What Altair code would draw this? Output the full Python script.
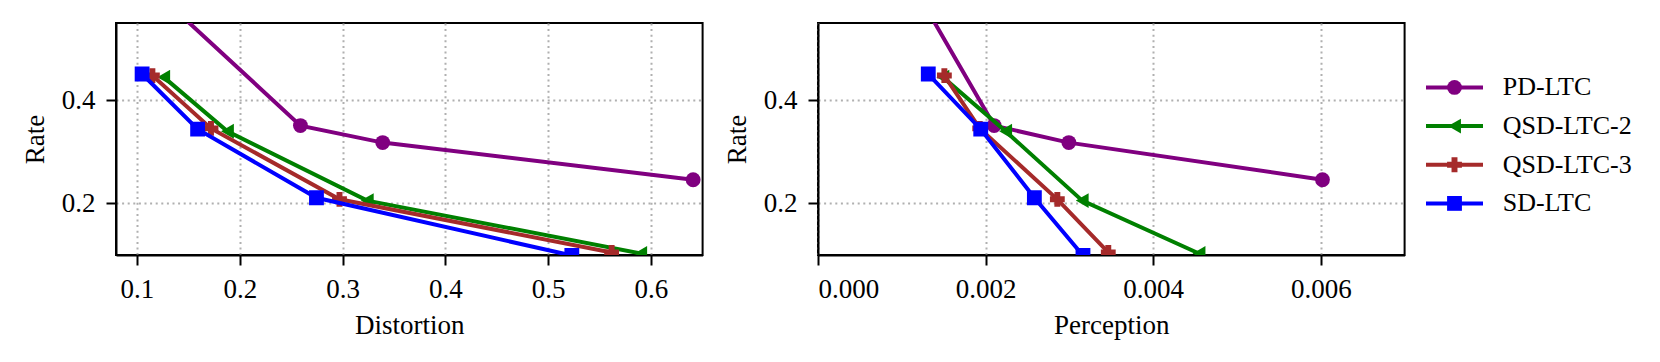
import altair as alt
import pandas as pd

series = ["PD-LTC", "QSD-LTC-2", "QSD-LTC-3", "SD-LTC"]
colors = ["#800080", "#008000", "#A52A2A", "#0000FF"]
shapes = ["circle", "triangle-left", "cross", "square"]

pd_rate = [0.70, 0.351, 0.318, 0.246]
pd_dist = [0.0695, 0.259, 0.339, 0.641]
pd_perc = [0.00086, 0.002102, 0.002993, 0.00602]

q2_rate = [0.445, 0.340, 0.2055, 0.103]
q2_dist = [0.126, 0.188, 0.324, 0.590]
q2_perc = [0.00149, 0.002239, 0.003153, 0.004547]

q3_rate = [0.448, 0.3456, 0.208, 0.105]
q3_dist = [0.115, 0.172, 0.297, 0.5617]
q3_perc = [0.001508, 0.00193, 0.002856, 0.003464]

sd_rate = [0.451, 0.344, 0.211, 0.099]
sd_dist = [0.105, 0.159, 0.2746, 0.523]
sd_perc = [0.001316, 0.001942, 0.002582, 0.003162]

dist_ticks = [0.1, 0.2, 0.3, 0.4, 0.5, 0.6]
perc_ticks = [0.0, 0.002, 0.004, 0.006]
rate_ticks = [0.2, 0.4]

rows = []
for name, r, d, p in [
    ("PD-LTC", pd_rate, pd_dist, pd_perc),
    ("QSD-LTC-2", q2_rate, q2_dist, q2_perc),
    ("QSD-LTC-3", q3_rate, q3_dist, q3_perc),
    ("SD-LTC", sd_rate, sd_dist, sd_perc),
]:
    for i in range(len(r)):
        rows.append({"series": name, "idx": i, "rate": r[i], "dist": d[i], "perc": p[i]})
df = pd.DataFrame(rows)

FONT = "Liberation Serif"
color_scale = alt.Scale(domain=series, range=colors)
shape_scale = alt.Scale(domain=series, range=shapes)
W, H = 586.6, 232


def panel(xfield, xtitle, xdomain, xvalues, xformat):
    layers = []
    xenc = alt.X(f"{xfield}:Q",
                 scale=alt.Scale(domain=xdomain, nice=False, zero=False),
                 axis=alt.Axis(values=xvalues, format=xformat, title=xtitle))
    yenc = alt.Y("rate:Q",
                 scale=alt.Scale(domain=[0.1, 0.55], nice=False, zero=False),
                 axis=alt.Axis(values=rate_ticks, format=".1f", title="Rate"))
    for s in series:
        base = alt.Chart(df).transform_filter(alt.datum.series == s)
        line = base.mark_line(strokeWidth=4, clip=True).encode(
            x=xenc, y=yenc, order=alt.Order("idx:Q"),
            color=alt.Color("series:N", scale=color_scale, legend=None))
        pts = base.mark_point(filled=True, size=220, opacity=1, clip=True).encode(
            x=xenc, y=yenc,
            color=alt.Color("series:N", scale=color_scale, legend=None),
            shape=alt.Shape("series:N", scale=shape_scale, legend=None))
        layers += [line, pts]
    return alt.layer(*layers).properties(width=W, height=H)


left = panel("dist", "Distortion", [0.0796, 0.6502], dist_ticks, ".1f")
right = panel("perc", "Perception", [0.0, 0.007], perc_ticks, ".3f")

leg_df = pd.DataFrame({"series": series})
ly = alt.Y("series:N",
           scale=alt.Scale(type="point", domain=series, range=[64.4, 180.4], padding=0),
           axis=None)
leg_base = alt.Chart(leg_df)
leg_rule = leg_base.mark_rule(strokeWidth=4).encode(
    x=alt.value(0), x2=alt.value(57), y=ly,
    color=alt.Color("series:N", scale=color_scale, legend=None))
leg_pts = leg_base.mark_point(filled=True, size=220, opacity=1).encode(
    x=alt.value(28.5), y=ly,
    color=alt.Color("series:N", scale=color_scale, legend=None),
    shape=alt.Shape("series:N", scale=shape_scale, legend=None))
leg_txt = leg_base.mark_text(align="left", baseline="middle", font=FONT,
                             fontSize=26, color="black").encode(
    x=alt.value(76.7), y=ly, text="series:N")
legend = alt.layer(leg_rule, leg_pts, leg_txt).properties(
    width=200, height=H, view=alt.ViewBackground(stroke=None))

chart = alt.hconcat(left, right, legend, spacing=18).properties(
    padding={"left": 12, "top": 14, "right": 5, "bottom": 5}
).configure(font=FONT).configure_view(
    stroke="black", strokeWidth=2
).configure_axis(
    labelFont=FONT, labelFontSize=27, labelColor="black", labelPadding=11,
    titleFont=FONT, titleFontSize=27, titleFontWeight="normal", titleColor="black",
    titlePadding=10,
    tickColor="black", tickSize=10, tickWidth=2,
    domain=True, domainColor="black", domainWidth=2,
    grid=True, gridColor="#b0b0b0", gridDash=[2, 3.6], gridWidth=2,
).configure_axisY(titlePadding=12)

chart.save("out.html", embed_options={"renderer": "svg", "actions": False})
